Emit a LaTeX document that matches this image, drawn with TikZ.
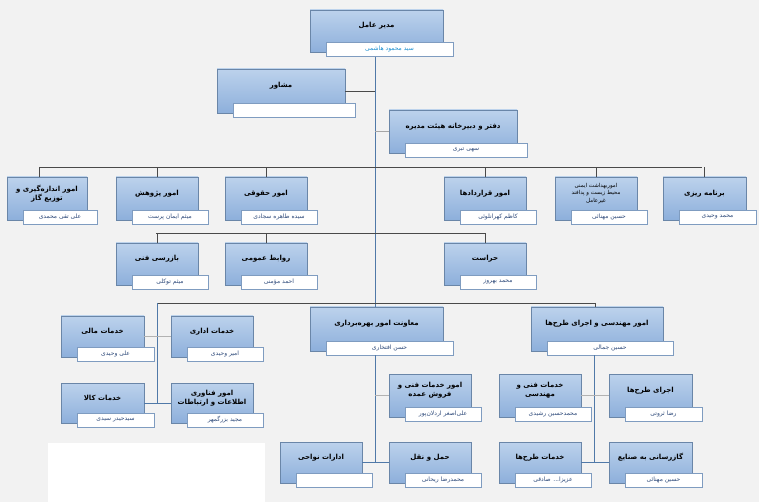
\documentclass[tikz,border=0pt]{standalone}
\usepackage{fontspec}
\newfontfamily\ar[Script=Arabic]{DejaVu Sans}
\TeXXeTstate=1
\newcommand\rl[1]{\beginR #1\endR}
\definecolor{bg}{HTML}{F2F2F2}
\definecolor{boxtop}{HTML}{BCD2EC}
\definecolor{boxbot}{HTML}{8DAFDB}
\definecolor{boxborder}{HTML}{6A86A8}
\definecolor{nameborder}{HTML}{7F9CC0}
\definecolor{nametext}{HTML}{2E4A7A}
\definecolor{ceoname}{HTML}{1E90D0}
\definecolor{linecol}{HTML}{5079A8}
\definecolor{buscol}{HTML}{4A4A4A}
\tikzset{
 mainbox/.style={draw=boxborder, top color=boxtop, bottom color=boxbot, line width=0.6pt, inner sep=0pt},
 namebox/.style={draw=nameborder, fill=white, line width=0.5pt, inner sep=0pt, font=\ar\fontsize{6}{7}\selectfont, text=nametext},
 titletext/.style={font=\ar\bfseries\fontsize{7}{9}\selectfont, align=center, inner sep=0pt},
 smalltitle/.style={font=\ar\fontsize{5.5}{7.5}\selectfont, align=center, inner sep=0pt},
 link/.style={draw=linecol, line width=0.9pt},
 bus/.style={draw=buscol, line width=0.6pt}
}
\newcommand\orgbox[8][titletext]{%
 \pgfmathsetmacro\cx{(#3+#5)/2}\pgfmathsetmacro\cy{(#4+#6)/2}%
 \pgfmathsetmacro\w{#5-#3}\pgfmathsetmacro\h{#6-#4}%
 \node[mainbox, minimum width=\w pt, minimum height=\h pt] (#2) at (\cx,\cy) {};%
 \pgfmathsetmacro\ty{(#4+#6-10)/2}%
 \node[#1] (#2-t) at (\cx,\ty) {#7};%
 \pgfmathsetmacro\nx{(#3+#5+26)/2}\pgfmathsetmacro\nw{#5-#3-6}\pgfmathsetmacro\ny{#6-3}%
 \node[namebox, minimum width=\nw pt, minimum height=14pt] (#2-n) at (\nx,\ny) {#8};%
}
\begin{document}
\begin{tikzpicture}[x=1pt,y=-1pt]
\useasboundingbox (0,0) rectangle (765,502);
\fill[bg] (0,0) rectangle (765,502);
\fill[white] (48,443) rectangle (265,502);
\fill[white] (759,0) rectangle (765,502);

\coordinate (j0) at (375,57);
\coordinate (b1l) at (39,167);
\coordinate (b1r) at (702,167);
\coordinate (b2l) at (156,233);
\coordinate (b2r) at (485,233);
\coordinate (b3l) at (157,303);
\coordinate (b3r) at (595,303);
\coordinate (lc) at (157,403);
\coordinate (j2) at (375,355);
\coordinate (j3) at (375,463);
\coordinate (j4) at (594,355);
\coordinate (j5) at (594,463);

\orgbox{ceo}{310}{10}{443}{52}{\rl{مدیر عامل}}{\color{ceoname}\rl{سید محمود هاشمی}}
\orgbox{adv}{217}{69}{345}{113}{\rl{مشاور}}{}
\orgbox{board}{389}{110}{517}{153}{\rl{دفتر و دبیرخانه هیئت مدیره}}{\rl{سهی تبری}}

\orgbox{gas}{7}{177}{87}{220}{\rl{امور اندازه‌گیری و}\\\rl{توزیع گاز}}{\rl{علی تقی محمدی}}
\orgbox{pzh}{116}{177}{198}{220}{\rl{امور پژوهش}}{\rl{میثم ایمان پرست}}
\orgbox{hoq}{225}{177}{307}{220}{\rl{امور حقوقی}}{\rl{سیده طاهره سجادی}}
\orgbox{qar}{444}{177}{526}{220}{\rl{امور قراردادها}}{\rl{کاظم کهرانلوئی}}
\orgbox[smalltitle]{hse}{555}{177}{637}{220}{\rl{اموربهداشت ایمنی}\\\rl{محیط زیست و پدافند}\\\rl{غیرعامل}}{\rl{حسین مهنائی}}
\orgbox{bar}{663}{177}{746}{220}{\rl{برنامه ریزی}}{\rl{محمد وحیدی}}

\orgbox{baz}{116}{243}{198}{285}{\rl{بازرسی فنی}}{\rl{میثم توکلی}}
\orgbox{rav}{225}{243}{307}{285}{\rl{روابط عمومی}}{\rl{احمد مؤمنی}}
\orgbox{her}{444}{243}{526}{285}{\rl{حراست}}{\rl{محمد بهروز}}

\orgbox{mali}{61}{316}{144}{357}{\rl{خدمات مالی}}{\rl{علی وحیدی}}
\orgbox{edari}{171}{316}{253}{357}{\rl{خدمات اداری}}{\rl{امیر وحیدی}}
\orgbox{kala}{61}{383}{144}{423}{\rl{خدمات کالا}}{\rl{سیدحیدر سیدی}}
\orgbox{it}{171}{383}{253}{423}{\rl{امور فناوری}\\\rl{اطلاعات و ارتباطات}}{\rl{مجید بزرگمهر}}

\orgbox{moav}{310}{307}{443}{351}{\rl{معاونت امور بهره‌برداری}}{\rl{حسن افتخاری}}
\orgbox{fani}{389}{374}{471}{417}{\rl{امور خدمات فنی و}\\\rl{فروش عمده}}{\rl{علی‌اصغر اردلان‌پور}}
\orgbox{nav}{280}{442}{362}{483}{\rl{ادارات نواحی}}{}
\orgbox{haml}{389}{442}{471}{483}{\rl{حمل و نقل}}{\rl{محمدرضا ریحانی}}

\orgbox{eng}{531}{307}{663}{351}{\rl{امور مهندسی و اجرای طرح‌ها}}{\rl{حسین جمالی}}
\orgbox{khfm}{499}{374}{581}{417}{\rl{خدمات فنی و}\\\rl{مهندسی}}{\rl{محمدحسین رشیدی}}
\orgbox{ejra}{609}{374}{692}{417}{\rl{اجرای طرح‌ها}}{\rl{رضا ثروتی}}
\orgbox{tarh}{499}{442}{581}{483}{\rl{خدمات طرح‌ها}}{\rl{عزیزا... صادقی}}
\orgbox{gazs}{609}{442}{692}{483}{\rl{گازرسانی به صنایع}}{\rl{حسین مهنائی}}

\draw[link] (j0) -- (moav.north -| j0);
\draw[bus] (adv.east) -- (adv.east -| j0);
\draw[link,draw=gray!70] (board.west) -- (board.west -| j0);
\draw[bus] (b1l) -- (b1r);
\draw[bus] (b1l) -- (gas.north -| b1l);
\foreach \n in {pzh,hoq,qar,hse,bar}{\draw[bus] (\n.north) -- (\n.north |- b1l);}
\draw[bus] (b2l) -- (b2r);
\foreach \n in {baz,rav,her}{\draw[bus] (\n.north) -- (\n.north |- b2l);}
\draw[bus] (b3l) -- (b3r);
\draw[bus] (b3r) -- (eng.north -| b3r);
\draw[link] (b3l) -- (lc);
\draw[link,draw=gray!60] (mali.east) -- (edari.west);
\draw[link] (kala.east) -- (it.west);
\draw[link] (j2) -- (j3);
\draw[link,draw=gray!60] (fani.west) -- (fani.west -| j2);
\draw[link] (nav.east) -- (haml.west);
\draw[link] (j4) -- (j5);
\draw[link,draw=gray!60] (khfm.east) -- (ejra.west);
\draw[link] (tarh.east) -- (gazs.west);
\end{tikzpicture}
\end{document}
